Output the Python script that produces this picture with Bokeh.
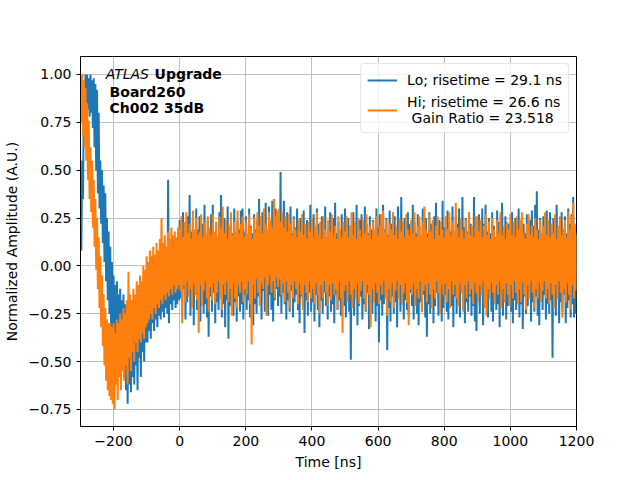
from bokeh.plotting import figure
from bokeh.models import Range1d, FixedTicker, CustomJSTickFormatter, Legend, LegendItem, Label
from bokeh.embed import file_html
from bokeh.resources import INLINE

# sampling grid (ns): "main" samples at t_start + t_step*k, "mid" samples half a step later
t_start = -300
t_step = 5

# ---- Lo channel (blue) ----
lo_pre_main = [
    0.12, 0.55, 0.88, 1.00, 1.00, 0.98, 1.00, 0.97, 0.98, 0.95, 0.92, 0.80, 0.55, 0.50, 0.42, 0.38, 0.25, 0.18, 0.10, 0.02,
    -0.05, -0.10, -0.08, -0.15, -0.12, -0.18, -0.15, -0.20, -0.22, -0.18, -0.25, -0.20, -0.22, -0.16, -0.18, -0.12, -0.15, -0.10, -0.12, -0.08,
    -0.08, -0.05, -0.02, -0.05, 0.00, 0.02, -0.02, 0.05, 0.02, 0.08, 0.05, 0.10, 0.06, 0.45, 0.08, 0.12, 0.10, 0.15, 0.12, 0.14,
]
lo_pre_mid = [
    0.08, 0.35, 0.65, 0.80, 0.82, 0.78, 0.80, 0.72, 0.62, 0.50, 0.38, 0.30, 0.22, 0.12, 0.02, -0.08, -0.18, -0.25, -0.32, -0.35,
    -0.40, -0.45, -0.48, -0.52, -0.55, -0.50, -0.58, -0.65, -0.72, -0.62, -0.66, -0.58, -0.62, -0.52, -0.65, -0.48, -0.58, -0.45, -0.50, -0.40,
    -0.40, -0.34, -0.38, -0.30, -0.34, -0.28, -0.32, -0.26, -0.28, -0.24, -0.27, -0.22, -0.25, -0.30, -0.20, -0.23, -0.18, -0.22, -0.20, -0.18,
]
lo_post_main = [
    0.24, 0.16, 0.28, 0.20, 0.14, 0.26, 0.37, 0.18, 0.25, 0.15, 0.30, 0.19, 0.26, 0.17, 0.22, 0.32, 0.16, 0.24, 0.19, 0.27,
    0.32, 0.17, 0.22, 0.15, 0.28, 0.37, 0.18, 0.25, 0.16, 0.31, 0.20, 0.27, 0.17, 0.30, 0.15, 0.24, 0.19, 0.29, 0.30, 0.18,
    0.26, 0.16, 0.30, 0.21, 0.17, 0.27, 0.19, 0.24, 0.35, 0.18, 0.28, 0.22, 0.33, 0.17, 0.31, 0.24, 0.34, 0.20, 0.30, 0.25,
    0.29, 0.49, 0.23, 0.34, 0.19, 0.28, 0.22, 0.31, 0.17, 0.26, 0.20, 0.30, 0.16, 0.25, 0.19, 0.29, 0.15, 0.24, 0.18, 0.32,
    0.20, 0.27, 0.17, 0.30, 0.22, 0.16, 0.26, 0.19, 0.31, 0.15, 0.24, 0.28, 0.18, 0.25, 0.33, 0.17, 0.23, 0.16, 0.27, 0.19,
    0.30, 0.17, 0.25, 0.21, 0.15, 0.28, 0.19, 0.32, 0.16, 0.24, 0.27, 0.18, 0.31, 0.22, 0.17, 0.26, 0.19, 0.24, 0.16, 0.30,
    0.20, 0.27, 0.17, 0.32, 0.19, 0.25, 0.16, 0.29, 0.22, 0.18, 0.26, 0.20, 0.31, 0.17, 0.36, 0.19, 0.25, 0.16, 0.28, 0.22,
    0.18, 0.32, 0.23, 0.17, 0.27, 0.21, 0.15, 0.30, 0.19, 0.25, 0.17, 0.28, 0.22, 0.16, 0.26, 0.33, 0.18, 0.24, 0.19, 0.34,
    0.20, 0.16, 0.29, 0.23, 0.18, 0.31, 0.17, 0.26, 0.22, 0.30, 0.16, 0.36, 0.20, 0.25, 0.18, 0.28, 0.22, 0.17, 0.36, 0.23,
    0.19, 0.27, 0.16, 0.30, 0.22, 0.32, 0.18, 0.25, 0.17, 0.28, 0.21, 0.15, 0.29, 0.23, 0.18, 0.33, 0.19, 0.26, 0.16, 0.22,
    0.17, 0.28, 0.21, 0.25, 0.16, 0.30, 0.19, 0.26, 0.22, 0.17, 0.27, 0.18, 0.24, 0.29, 0.21, 0.32, 0.39, 0.19, 0.25, 0.16,
    0.26, 0.18, 0.29, 0.22, 0.28, 0.17, 0.25, 0.21, 0.32, 0.18, 0.24, 0.28, 0.19, 0.26, 0.17, 0.30, 0.22, 0.27, 0.36, 0.21, 0.18,
]
lo_post_mid = [
    -0.17, -0.24, -0.12, -0.28, -0.19, -0.14, -0.26, -0.21, -0.31, -0.15, -0.23, -0.18, -0.29, -0.13, -0.25, -0.20, -0.27, -0.37, -0.16, -0.24,
    -0.14, -0.30, -0.19, -0.23, -0.15, -0.27, -0.20, -0.32, -0.18, -0.38, -0.21, -0.14, -0.26, -0.19, -0.29, -0.16, -0.24, -0.20, -0.28, -0.15,
    -0.23, -0.18, -0.27, -0.14, -0.31, -0.20, -0.25, -0.16, -0.21, -0.28, -0.13, -0.24, -0.19, -0.26, -0.15, -0.23, -0.29, -0.18, -0.12, -0.21,
    -0.16, -0.25, -0.14, -0.20, -0.28, -0.18, -0.24, -0.13, -0.27, -0.19, -0.15, -0.23, -0.30, -0.16, -0.21, -0.35, -0.18, -0.26, -0.14, -0.24,
    -0.19, -0.29, -0.15, -0.23, -0.32, -0.18, -0.25, -0.14, -0.21, -0.28, -0.16, -0.24, -0.20, -0.30, -0.15, -0.23, -0.18, -0.26, -0.13, -0.21,
    -0.27, -0.18, -0.24, -0.49, -0.19, -0.26, -0.15, -0.31, -0.21, -0.16, -0.28, -0.20, -0.24, -0.14, -0.33, -0.19, -0.25, -0.16, -0.29, -0.21,
    -0.40, -0.18, -0.26, -0.20, -0.15, -0.44, -0.22, -0.29, -0.16, -0.25, -0.19, -0.32, -0.15, -0.24, -0.20, -0.28, -0.18, -0.23, -0.26, -0.14,
    -0.21, -0.28, -0.16, -0.25, -0.31, -0.19, -0.24, -0.15, -0.27, -0.37, -0.20, -0.25, -0.16, -0.30, -0.21, -0.14, -0.26, -0.19, -0.29, -0.22,
    -0.15, -0.24, -0.28, -0.18, -0.21, -0.32, -0.16, -0.25, -0.20, -0.27, -0.14, -0.23, -0.30, -0.19, -0.24, -0.16, -0.26, -0.21, -0.29, -0.34,
    -0.18, -0.25, -0.15, -0.31, -0.21, -0.19, -0.27, -0.14, -0.24, -0.29, -0.16, -0.23, -0.20, -0.32, -0.15, -0.26, -0.19, -0.28, -0.21, -0.16,
    -0.24, -0.30, -0.18, -0.23, -0.15, -0.27, -0.20, -0.33, -0.16, -0.25, -0.21, -0.14, -0.29, -0.19, -0.24, -0.16, -0.26, -0.31, -0.18, -0.23,
    -0.15, -0.28, -0.20, -0.25, -0.18, -0.48, -0.21, -0.26, -0.16, -0.30, -0.19, -0.24, -0.15, -0.30, -0.22, -0.18, -0.27, -0.20, -0.27, -0.25,
]

# ---- Hi channel (orange) ----
hi_pre_main = [
    1.00, 1.00, 0.97, 0.93, 0.85, 0.76, 0.62, 0.55, 0.45, 0.35, 0.25, 0.15, 0.05, -0.05, -0.15, -0.22, -0.28, -0.30, -0.30, -0.32,
    -0.30, -0.35, -0.28, -0.30, -0.25, -0.28, -0.22, -0.25, -0.18, -0.03, -0.15, -0.18, -0.12, -0.15, -0.08, -0.10, -0.05, -0.08, 0.00, -0.02,
    0.05, 0.02, 0.08, 0.05, 0.10, 0.06, 0.12, 0.08, 0.14, 0.25, 0.12, 0.16, 0.10, 0.18, 0.14, 0.20, 0.16, 0.18, 0.15, 0.20,
]
hi_pre_mid = [
    0.75, 0.68, 0.62, 0.55, 0.45, 0.35, 0.28, 0.20, 0.10, -0.02, -0.12, -0.22, -0.32, -0.42, -0.52, -0.60, -0.65, -0.68, -0.70, -0.72,
    -0.75, -0.62, -0.70, -0.58, -0.65, -0.55, -0.60, -0.52, -0.62, -0.48, -0.55, -0.45, -0.50, -0.40, -0.45, -0.38, -0.40, -0.35, -0.38, -0.32,
    -0.30, -0.28, -0.25, -0.28, -0.22, -0.25, -0.20, -0.22, -0.18, -0.20, -0.15, -0.18, -0.14, -0.16, -0.12, -0.15, -0.10, -0.14, -0.12, -0.10,
]
hi_post_main = [
    0.20, 0.26, 0.15, 0.23, 0.28, 0.17, 0.22, 0.14, 0.29, 0.19, 0.25, 0.16, 0.18, 0.27, 0.15, 0.23, 0.17, 0.26, 0.20, 0.16,
    0.27, 0.18, 0.23, 0.15, 0.26, 0.20, 0.31, 0.17, 0.24, 0.14, 0.21, 0.28, 0.16, 0.23, 0.18, 0.29, 0.17, 0.22, 0.26, 0.15,
    0.23, 0.17, 0.27, 0.20, 0.14, 0.25, 0.18, 0.28, 0.21, 0.26, 0.17, 0.30, 0.22, 0.19, 0.28, 0.24, 0.20, 0.35, 0.26, 0.29,
    0.30, 0.23, 0.28, 0.20, 0.26, 0.18, 0.27, 0.22, 0.16, 0.25, 0.19, 0.15, 0.24, 0.18, 0.27, 0.16, 0.22, 0.14, 0.23, 0.18,
    0.25, 0.15, 0.21, 0.28, 0.16, 0.23, 0.14, 0.26, 0.19, 0.15, 0.24, 0.18, 0.27, 0.16, 0.21, 0.14, 0.26, 0.19, 0.15, 0.23,
    0.18, 0.26, 0.15, 0.21, 0.28, 0.16, 0.23, 0.14, 0.25, 0.19, 0.15, 0.24, 0.17, 0.27, 0.16, 0.21, 0.14, 0.23, 0.19, 0.26,
    0.16, 0.21, 0.27, 0.29, 0.18, 0.24, 0.15, 0.22, 0.19, 0.28, 0.16, 0.21, 0.14, 0.25, 0.18, 0.23, 0.15, 0.27, 0.19, 0.16,
    0.24, 0.17, 0.28, 0.15, 0.21, 0.26, 0.16, 0.23, 0.31, 0.19, 0.15, 0.27, 0.18, 0.24, 0.14, 0.21, 0.26, 0.16, 0.23, 0.19,
    0.15, 0.26, 0.19, 0.28, 0.16, 0.23, 0.18, 0.33, 0.20, 0.15, 0.25, 0.19, 0.14, 0.24, 0.17, 0.28, 0.16, 0.21, 0.15, 0.26,
    0.26, 0.18, 0.24, 0.15, 0.21, 0.27, 0.16, 0.23, 0.14, 0.25, 0.19, 0.15, 0.24, 0.17, 0.28, 0.16, 0.21, 0.14, 0.23, 0.19,
    0.27, 0.16, 0.23, 0.15, 0.26, 0.19, 0.24, 0.28, 0.17, 0.14, 0.22, 0.27, 0.16, 0.21, 0.15, 0.25, 0.19, 0.14, 0.24, 0.17,
    0.21, 0.28, 0.16, 0.24, 0.15, 0.22, 0.17, 0.27, 0.14, 0.21, 0.26, 0.16, 0.19, 0.24, 0.15, 0.28, 0.19, 0.26, 0.33, 0.22, 0.16,
]
hi_post_mid = [
    -0.13, -0.30, -0.10, -0.19, -0.08, -0.16, -0.12, -0.22, -0.09, -0.15, -0.18, -0.35, -0.10, -0.21, -0.13, -0.08, -0.17, -0.24, -0.11, -0.18,
    -0.09, -0.20, -0.14, -0.08, -0.17, -0.23, -0.10, -0.15, -0.08, -0.19, -0.12, -0.26, -0.09, -0.17, -0.22, -0.10, -0.14, -0.08, -0.19, -0.12,
    -0.15, -0.08, -0.20, -0.41, -0.10, -0.17, -0.07, -0.14, -0.21, -0.09, -0.12, -0.06, -0.26, -0.10, -0.05, -0.14, -0.08, -0.17, -0.06, -0.11,
    -0.07, -0.15, -0.09, -0.19, -0.08, -0.14, -0.22, -0.10, -0.17, -0.08, -0.12, -0.20, -0.09, -0.15, -0.23, -0.10, -0.14, -0.19, -0.08, -0.17,
    -0.12, -0.20, -0.09, -0.15, -0.25, -0.10, -0.17, -0.08, -0.14, -0.21, -0.10, -0.18, -0.09, -0.15, -0.12, -0.23, -0.08, -0.17, -0.35, -0.13,
    -0.10, -0.19, -0.08, -0.15, -0.22, -0.12, -0.17, -0.09, -0.20, -0.13, -0.08, -0.17, -0.23, -0.10, -0.15, -0.32, -0.12, -0.19, -0.09, -0.14,
    -0.20, -0.10, -0.15, -0.08, -0.17, -0.26, -0.12, -0.19, -0.09, -0.22, -0.13, -0.08, -0.17, -0.10, -0.20, -0.14, -0.09, -0.19, -0.31, -0.12,
    -0.15, -0.09, -0.21, -0.12, -0.17, -0.08, -0.24, -0.13, -0.10, -0.19, -0.09, -0.15, -0.22, -0.12, -0.17, -0.08, -0.14, -0.25, -0.10, -0.15,
    -0.09, -0.19, -0.12, -0.22, -0.08, -0.15, -0.10, -0.17, -0.21, -0.09, -0.14, -0.24, -0.10, -0.17, -0.08, -0.15, -0.12, -0.20, -0.09, -0.14,
    -0.19, -0.10, -0.15, -0.08, -0.22, -0.26, -0.12, -0.17, -0.09, -0.14, -0.20, -0.10, -0.15, -0.08, -0.22, -0.12, -0.19, -0.09, -0.15, -0.21,
    -0.10, -0.17, -0.08, -0.14, -0.20, -0.12, -0.19, -0.09, -0.15, -0.23, -0.10, -0.17, -0.08, -0.14, -0.22, -0.12, -0.17, -0.09, -0.19, -0.13,
    -0.08, -0.17, -0.12, -0.20, -0.09, -0.15, -0.22, -0.10, -0.17, -0.08, -0.14, -0.27, -0.12, -0.19, -0.09, -0.15, -0.23, -0.10, -0.17, -0.13,
]

lo_label = "Lo; risetime = 29.1 ns"
hi_label = "Hi; risetime = 26.6 ns\n Gain Ratio = 23.518"
x_ticks = [-200, 0, 200, 400, 600, 800, 1000, 1200]
y_ticks = [-0.75, -0.50, -0.25, 0.00, 0.25, 0.50, 0.75, 1.00]


def interleave(main, mid):
    t, v = [], []
    for k, val in enumerate(main):
        t.append(t_start + t_step * k)
        v.append(val)
        if k < len(mid):
            t.append(t_start + t_step * k + t_step / 2)
            v.append(mid[k])
    return t, v


t_lo, lo = interleave(lo_pre_main + lo_post_main, lo_pre_mid + lo_post_mid)
t_hi, hi = interleave(hi_pre_main + hi_post_main, hi_pre_mid + hi_post_mid)

FONT = "DejaVu Sans"
FS = "14px"

p = figure(output_backend="svg", toolbar_location=None,
           x_range=Range1d(-300, 1200), y_range=Range1d(-0.839, 1.094),
           min_border_left=76, min_border_right=52, min_border_top=56, min_border_bottom=38)
p.frame_width = 496
p.frame_height = 370
p.background_fill_color = "white"
p.border_fill_color = "white"
p.outline_line_color = "black"
p.outline_line_width = 1

r_lo = p.line(t_lo, lo, line_color="#1f77b4", line_width=2)
r_hi = p.line(t_hi, hi, line_color="#ff7f0e", line_width=2)

for ax in (p.xaxis[0], p.yaxis[0]):
    ax.major_label_text_font = FONT
    ax.major_label_text_font_size = FS
    ax.major_label_text_color = "black"
    ax.axis_label_text_font = FONT
    ax.axis_label_text_font_size = FS
    ax.axis_label_text_font_style = "normal"
    ax.axis_label_text_color = "black"
    ax.minor_tick_line_color = None
    ax.major_tick_in = 0
    ax.major_tick_out = 4
    ax.major_tick_line_color = "black"
    ax.axis_line_color = "black"

p.xaxis.ticker = FixedTicker(ticks=x_ticks)
p.yaxis.ticker = FixedTicker(ticks=y_ticks)
p.xaxis.formatter = CustomJSTickFormatter(code="return (tick < 0 ? '\u2212' : '') + Math.abs(tick).toFixed(0);")
p.yaxis.formatter = CustomJSTickFormatter(code="return (tick < 0 ? '\u2212' : '') + Math.abs(tick).toFixed(2);")
p.xaxis.axis_label = "Time [ns]"
p.yaxis.axis_label = "Normalized Amplitude (A.U.)"
p.xaxis.axis_label_standoff = 5
p.yaxis.axis_label_standoff = 6

p.grid.grid_line_color = "#b0b0b0"
p.grid.grid_line_width = 0.8

legend = Legend(items=[LegendItem(label=lo_label, renderers=[r_lo]),
                       LegendItem(label=hi_label, renderers=[r_hi])],
                location="top_right")
legend.margin = 7
legend.padding = 6
legend.spacing = 4
legend.glyph_width = 30
legend.label_standoff = 10
legend.label_text_font = FONT
legend.label_text_font_size = FS
legend.label_text_color = "black"
legend.border_line_color = "#cccccc"
legend.border_line_width = 1
legend.border_radius = 4
legend.background_fill_alpha = 0.8
p.add_layout(legend)

for x, y, txt, style in [(-224, 1.005, "ATLAS", "italic"), (-76, 1.005, "Upgrade", "bold"),
                         (-212, 0.911, "Board260", "bold"), (-212, 0.827, "Ch002 35dB", "bold")]:
    p.add_layout(Label(x=x, y=y, text=txt, text_font=FONT, text_font_size=FS,
                       text_font_style=style, text_baseline="middle", text_color="black"))

open("out.html", "w").write(file_html(p, INLINE))
